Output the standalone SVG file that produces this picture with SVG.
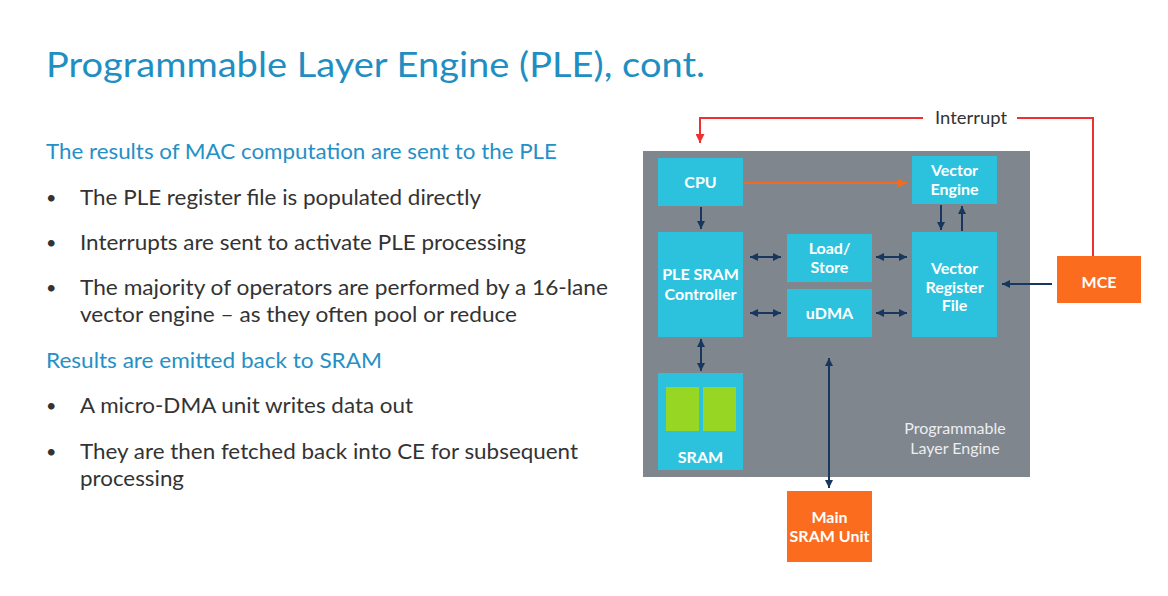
<svg xmlns="http://www.w3.org/2000/svg" width="1168" height="596" viewBox="0 0 1168 596">
<style>
.title{font-family:Lato,"Open Sans",sans-serif;font-size:34px;fill:#1f8fc3}
.sub{font-family:Lato,"Open Sans",sans-serif;font-size:21px;fill:#2590c6}
.body{font-family:Lato,"Open Sans",sans-serif;font-size:22px;fill:#333333}
.dot{font-family:Lato,"Open Sans",sans-serif;font-size:18px;fill:#333333}
.lbl{font-family:Lato,"Open Sans",sans-serif;font-size:16px;font-weight:bold;fill:#ffffff;text-anchor:middle}
.cyan{fill:#2cc2de}
.orange{fill:#fb6c1e}
.nav{stroke:#17375e;stroke-width:2;fill:none}
</style>
<defs>
<marker id="ah" viewBox="0 0 8 8" refX="8" refY="4" markerWidth="8" markerHeight="8" markerUnits="userSpaceOnUse" orient="auto-start-reverse"><path d="M0,0 L8,4 L0,8 z" fill="#17375e"/></marker>
<marker id="ahr" viewBox="0 0 8 8" refX="8" refY="4" markerWidth="9" markerHeight="9" markerUnits="userSpaceOnUse" orient="auto"><path d="M0,0 L8,4 L0,8 z" fill="#ee3030"/></marker>
<marker id="aho" viewBox="0 0 8 8" refX="8" refY="4" markerWidth="9" markerHeight="9" markerUnits="userSpaceOnUse" orient="auto"><path d="M0,0 L8,4 L0,8 z" fill="#f26b21"/></marker>
</defs>
<rect width="1168" height="596" fill="#ffffff"/>

<g id="text">
<text class="title" x="46" y="77" textLength="659" lengthAdjust="spacingAndGlyphs">Programmable Layer Engine (PLE), cont.</text>
<text class="sub" x="46" y="159" textLength="511" lengthAdjust="spacingAndGlyphs">The results of MAC computation are sent to the PLE</text>
<text class="dot" x="46" y="204">•</text>
<text class="body" x="80" y="205" textLength="401" lengthAdjust="spacingAndGlyphs">The PLE register file is populated directly</text>
<text class="dot" x="46" y="249">•</text>
<text class="body" x="80" y="250" textLength="446" lengthAdjust="spacingAndGlyphs">Interrupts are sent to activate PLE processing</text>
<text class="dot" x="46" y="294">•</text>
<text class="body" x="80" y="295" textLength="528" lengthAdjust="spacingAndGlyphs">The majority of operators are performed by a 16-lane</text>
<text class="body" x="80" y="322" textLength="437" lengthAdjust="spacingAndGlyphs">vector engine – as they often pool or reduce</text>
<text class="sub" x="46" y="368" textLength="336" lengthAdjust="spacingAndGlyphs">Results are emitted back to SRAM</text>
<text class="dot" x="46" y="412">•</text>
<text class="body" x="80" y="413" textLength="333" lengthAdjust="spacingAndGlyphs">A micro-DMA unit writes data out</text>
<text class="dot" x="46" y="458">•</text>
<text class="body" x="80" y="459" textLength="498" lengthAdjust="spacingAndGlyphs">They are then fetched back into CE for subsequent</text>
<text class="body" x="80" y="486" textLength="104" lengthAdjust="spacingAndGlyphs">processing</text>
</g>

<g id="ple">
<rect x="643" y="151" width="387" height="326" fill="#7f868d"/>
<text x="955" y="434" style="font-family:Lato,sans-serif;font-size:16px;fill:#eceef0;text-anchor:middle">Programmable</text>
<text x="955" y="454" style="font-family:Lato,sans-serif;font-size:16px;fill:#eceef0;text-anchor:middle">Layer Engine</text>
</g>

<g id="cpu">
<rect class="cyan" x="658" y="158" width="85" height="48"/>
<text class="lbl" x="700.5" y="188">CPU</text>
</g>

<g id="vector-engine">
<rect class="cyan" x="912" y="156" width="85" height="48"/>
<text class="lbl" x="954.5" y="176">Vector</text>
<text class="lbl" x="954.5" y="195">Engine</text>
</g>

<g id="ple-sram-controller">
<rect class="cyan" x="658" y="232" width="85" height="105"/>
<text class="lbl" x="700.5" y="280">PLE SRAM</text>
<text class="lbl" x="700.5" y="300">Controller</text>
</g>

<g id="load-store">
<rect class="cyan" x="787" y="234" width="85" height="48"/>
<text class="lbl" x="829.5" y="254">Load/</text>
<text class="lbl" x="829.5" y="273">Store</text>
</g>

<g id="udma">
<rect class="cyan" x="787" y="289" width="85" height="48"/>
<text class="lbl" x="829.5" y="319">uDMA</text>
</g>

<g id="vector-register-file">
<rect class="cyan" x="912" y="232" width="85" height="105"/>
<text class="lbl" x="954.5" y="274">Vector</text>
<text class="lbl" x="954.5" y="293">Register</text>
<text class="lbl" x="954.5" y="311">File</text>
</g>

<g id="sram">
<rect class="cyan" x="658" y="373" width="85" height="97"/>
<rect x="666" y="387" width="33" height="44" fill="#97d623"/>
<rect x="703" y="387" width="33" height="44" fill="#97d623"/>
<text class="lbl" x="700.5" y="463">SRAM</text>
</g>

<g id="mce">
<rect class="orange" x="1057" y="256" width="84" height="47"/>
<text class="lbl" x="1099" y="288">MCE</text>
</g>

<g id="main-sram-unit">
<rect class="orange" x="787" y="491" width="85" height="71"/>
<text class="lbl" x="829.5" y="523">Main</text>
<text class="lbl" x="829.5" y="542">SRAM Unit</text>
</g>

<g id="connectors">
<line x1="744" y1="183" x2="907" y2="183" stroke="#f26b21" stroke-width="2" marker-end="url(#aho)"/>
<line class="nav" x1="701" y1="207" x2="701" y2="229" marker-end="url(#ah)"/>
<line class="nav" x1="941" y1="205" x2="941" y2="230" marker-end="url(#ah)"/>
<line class="nav" x1="962" y1="231" x2="962" y2="206" marker-end="url(#ah)"/>
<line class="nav" x1="750" y1="257" x2="781" y2="257" marker-start="url(#ah)" marker-end="url(#ah)"/>
<line class="nav" x1="750" y1="313" x2="781" y2="313" marker-start="url(#ah)" marker-end="url(#ah)"/>
<line class="nav" x1="876" y1="257" x2="907" y2="257" marker-start="url(#ah)" marker-end="url(#ah)"/>
<line class="nav" x1="876" y1="313" x2="907" y2="313" marker-start="url(#ah)" marker-end="url(#ah)"/>
<line class="nav" x1="1052" y1="284" x2="1002" y2="284" marker-end="url(#ah)"/>
<line class="nav" x1="701" y1="339" x2="701" y2="371" marker-start="url(#ah)" marker-end="url(#ah)"/>
<line class="nav" x1="829" y1="358" x2="829" y2="488" marker-start="url(#ah)" marker-end="url(#ah)"/>
<path d="M1093,256 V118 H1017" fill="none" stroke="#ee3030" stroke-width="2"/>
<path d="M923,118 H700 V143" fill="none" stroke="#ee3030" stroke-width="2" marker-end="url(#ahr)"/>
<text x="971" y="124" textLength="72" lengthAdjust="spacingAndGlyphs" style="font-family:Lato,sans-serif;font-size:17px;fill:#333333;text-anchor:middle">Interrupt</text>
</g>
</svg>
